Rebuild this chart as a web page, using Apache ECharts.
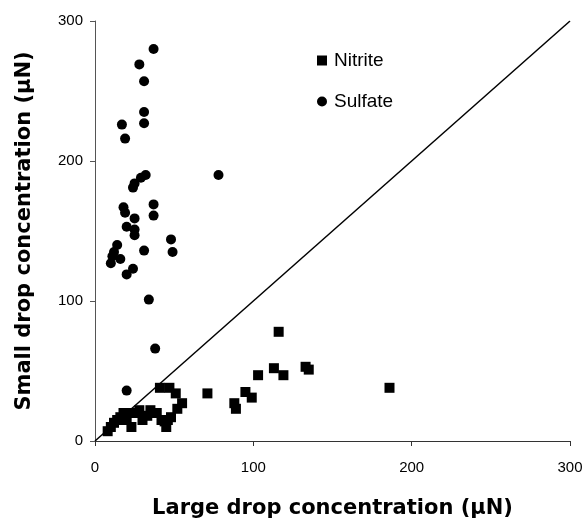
<!DOCTYPE html>
<html>
<head>
<meta charset="utf-8">
<script src="https://cdn.jsdelivr.net/npm/echarts@6/dist/echarts.min.js"></script>
<style>
  html, body { margin: 0; padding: 0; background: #fff; }
  #chart { width: 585px; height: 521px; }
</style>
</head>
<body>
<div id="chart"></div>
<script>
// Large drop vs small drop concentrations (μN)
const nitrite = [
  [8, 7], [10, 10], [12, 13], [14, 15], [16, 17], [20, 15], [18, 20], [23, 10],
  [24, 20], [28, 22], [30, 15], [35, 22], [39, 20], [42, 15], [44, 14], [45, 10],
  [46, 15], [48, 17], [52, 23], [55, 27], [41, 38], [47, 38], [51, 34], [33, 18],
  [71, 34], [88, 27], [89, 23], [95, 35], [99, 31], [103, 47], [113, 52], [116, 78],
  [119, 47], [133, 53], [135, 51], [186, 38]
];
const sulfate = [
  [37, 280], [28, 269], [31, 257], [31, 235], [31, 227], [17, 226], [19, 216],
  [32, 190], [78, 190], [29, 188], [25, 184], [24, 181], [18, 167], [19, 163],
  [25, 159], [37, 169], [37, 161], [20, 153], [25, 151], [25, 147], [48, 144],
  [49, 135], [31, 136], [14, 140], [12, 135], [11, 132], [16, 130], [10, 127],
  [24, 123], [20, 119], [34, 101], [38, 66], [20, 36]
];
const oneToOne = [[0, 0], [300, 300]];
const ticks = { min: 0, max: 300, interval: 100 };

const font = 'Liberation Sans, Arial, sans-serif';
const titleFont = 'DejaVu Sans, sans-serif';
const chart = echarts.init(document.getElementById('chart'));
chart.setOption({
  animation: false,
  backgroundColor: '#fff',
  grid: { left: 95, right: 15, top: 21, bottom: 80, outerBoundsMode: 'none' },
  legend: {
    orient: 'vertical',
    left: 312,
    top: 46,
    itemGap: 22,
    itemWidth: 10,
    itemHeight: 10,
    data: [
      { name: 'Nitrite', icon: 'rect' },
      { name: 'Sulfate', icon: 'circle' }
    ],
    textStyle: { fontFamily: font, fontSize: 19, color: '#000', padding: [0, 0, 0, 2] }
  },
  xAxis: {
    type: 'value',
    min: ticks.min, max: ticks.max, interval: ticks.interval,
    name: 'Large drop concentration (μN)',
    nameLocation: 'middle',
    nameGap: 57,
    nameTextStyle: { fontFamily: titleFont, fontSize: 21, fontWeight: 'bold', color: '#000' },
    axisLine: { lineStyle: { color: '#333', width: 1 } },
    axisTick: { show: true, length: 5, lineStyle: { color: '#333' } },
    axisLabel: { fontFamily: font, fontSize: 15, color: '#000', margin: 19 },
    splitLine: { show: false }
  },
  yAxis: {
    type: 'value',
    min: ticks.min, max: ticks.max, interval: ticks.interval,
    name: 'Small drop concentration (μN)',
    nameLocation: 'middle',
    nameGap: 60,
    nameTextStyle: { fontFamily: titleFont, fontSize: 21, fontWeight: 'bold', color: '#000' },
    axisLine: { show: true, lineStyle: { color: '#555', width: 1 } },
    axisTick: { show: true, length: 5, lineStyle: { color: '#555' } },
    axisLabel: { fontFamily: font, fontSize: 15, color: '#000', margin: 12 },
    splitLine: { show: false }
  },
  series: [
    {
      name: 'Nitrite',
      type: 'scatter',
      symbol: 'rect',
      symbolSize: 10,
      itemStyle: { color: '#000', opacity: 1 },
      data: nitrite,
      z: 3
    },
    {
      name: 'Sulfate',
      type: 'scatter',
      symbol: 'circle',
      symbolSize: 10,
      itemStyle: { color: '#000', opacity: 1 },
      data: sulfate,
      z: 3
    },
    {
      name: '1:1',
      type: 'line',
      data: oneToOne,
      symbol: 'none',
      lineStyle: { color: '#000', width: 1.5 },
      z: 2
    }
  ]
});
</script>
</body>
</html>
